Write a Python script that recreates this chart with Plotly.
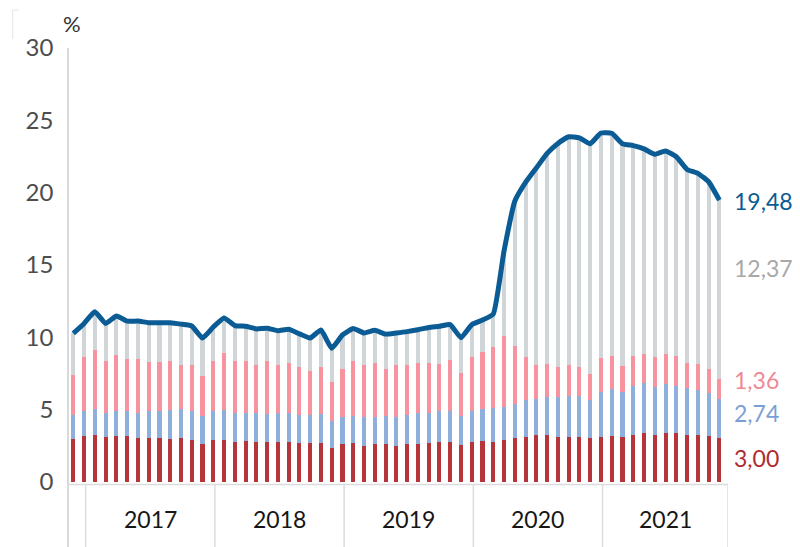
import numpy as np
import plotly.graph_objects as go

months = [f"{y}-{m:02d}" for y, m in [(2016, 12)] + [(yy, mm) for yy in range(2017, 2022) for mm in range(1, 13)]]

red = [2.94, 3.16, 3.21, 3.07, 3.16, 3.16, 3.02, 3.02, 3.02, 2.97, 3.02, 2.88,
       2.61, 2.88, 2.88, 2.76, 2.81, 2.76, 2.75, 2.76, 2.76, 2.66, 2.66, 2.71,
       2.35, 2.61, 2.66, 2.48, 2.61, 2.61, 2.49, 2.61, 2.61, 2.66, 2.74, 2.76,
       2.54, 2.76, 2.81, 2.76, 2.90, 3.00, 3.11, 3.23, 3.23, 3.11, 3.11, 3.11,
       3.00, 3.11, 3.16, 3.11, 3.23, 3.35, 3.23, 3.35, 3.35, 3.23, 3.23, 3.16, 3.00]
blue = [1.67, 1.73, 1.81, 1.66, 1.76, 1.76, 1.71, 1.87, 1.90, 1.99, 1.98, 1.99,
        1.96, 2.01, 2.06, 1.98, 1.93, 1.96, 1.93, 1.96, 1.97, 1.95, 1.97, 1.97,
        1.85, 1.89, 1.88, 1.98, 1.89, 1.93, 2.01, 2.00, 2.12, 2.07, 2.12, 2.12,
        2.03, 2.16, 2.19, 2.31, 2.28, 2.37, 2.54, 2.47, 2.61, 2.73, 2.82, 2.82,
        2.65, 3.11, 3.23, 3.11, 3.39, 3.45, 3.30, 3.38, 3.29, 3.23, 3.11, 2.95, 2.74]
pink = [2.77, 3.71, 4.09, 3.61, 3.84, 3.54, 3.73, 3.37, 3.34, 3.38, 3.07, 3.20,
        2.74, 3.43, 3.93, 3.60, 3.60, 3.36, 3.65, 3.35, 3.48, 3.32, 3.05, 3.26,
        2.67, 3.32, 3.80, 3.61, 3.73, 3.27, 3.57, 3.46, 3.48, 3.48, 3.31, 3.53,
        2.97, 3.72, 3.99, 4.27, 4.88, 4.01, 2.95, 2.37, 2.30, 2.12, 2.14, 2.03,
        1.80, 2.31, 2.32, 1.80, 2.09, 2.03, 2.07, 2.10, 2.07, 1.77, 1.80, 1.66, 1.36]
gray = [2.88, 2.35, 2.64, 2.61, 2.70, 2.65, 2.65, 2.74, 2.74, 2.66, 2.83, 2.70,
        2.63, 2.38, 2.46, 2.46, 2.41, 2.49, 2.29, 2.37, 2.34, 2.30, 2.26, 2.55,
        2.36, 2.33, 2.26, 2.22, 2.24, 2.40, 2.22, 2.31, 2.30, 2.46, 2.58, 2.46,
        2.42, 2.22, 2.19, 2.25, 5.90, 10.02, 12.10, 13.63, 14.57, 15.44, 15.79, 15.82,
        15.93, 15.59, 15.39, 15.36, 14.54, 14.19, 14.05, 14.05, 13.77, 13.37, 13.19, 12.98, 12.37]
total = [10.26, 10.95, 11.75, 10.95, 11.46, 11.11, 11.11, 11.00, 11.00, 11.00, 10.90, 10.77,
         9.94, 10.70, 11.33, 10.80, 10.75, 10.57, 10.62, 10.44, 10.55, 10.23, 9.94, 10.49,
         9.23, 10.15, 10.60, 10.29, 10.47, 10.21, 10.29, 10.38, 10.51, 10.67, 10.75, 10.87,
         9.96, 10.86, 11.18, 11.59, 15.96, 19.40, 20.70, 21.70, 22.71, 23.40, 23.86, 23.78,
         23.38, 24.12, 24.10, 23.38, 23.25, 23.02, 22.65, 22.88, 22.48, 21.60, 21.33, 20.75, 19.48]

years = ["2017", "2018", "2019", "2020", "2021"]
end_labels = ["19,48", "12,37", "1,36", "2,74", "3,00"]
y_ticks = [0, 5, 10, 15, 20, 25, 30]

x = np.arange(len(months))

C_RED = "#b5353b"
C_BLUE = "#8eaedb"
C_PINK = "#f6939e"
C_GRAY = "#d0d5d8"
C_LINE = "#0b5b95"
FONT = "Lato"

fig = go.Figure()
for vals, col, name in [(red, C_RED, "red"), (blue, C_BLUE, "blue"),
                        (pink, C_PINK, "pink"), (gray, C_GRAY, "gray")]:
    fig.add_trace(go.Bar(x=x, y=vals, marker=dict(color=col, line=dict(width=0)),
                         width=0.38, name=name, showlegend=False, hoverinfo="skip"))

fig.add_trace(go.Scatter(x=x, y=total, mode="lines",
                         line=dict(color=C_LINE, width=5, shape="spline", smoothing=0.4),
                         showlegend=False, hoverinfo="skip"))

# year band below the axis
div_x = [1.15, 13.15, 25.15, 37.15, 49.15, 60.8]
shapes = [dict(type="line", xref="x", yref="y", x0=-0.4, x1=60.8, y0=-0.2, y1=-0.2,
               line=dict(color="#dcdcdc", width=1.5))]
for dx in div_x:
    shapes.append(dict(type="line", xref="x", yref="y", x0=dx, x1=dx, y0=-0.2, y1=-4.6,
                       line=dict(color="#dcdcdc", width=1.5)))
# faint frame fragment top-left
shapes.append(dict(type="path", xref="paper", yref="paper",
                   path="M -0.0759 1.076 L -0.0854 1.076 L -0.0854 1.018",
                   line=dict(color="#e4e4e4", width=1)))

annotations = []
for i, yr in enumerate(years):
    cx = (div_x[i] + div_x[i + 1]) / 2
    annotations.append(dict(x=cx, y=-2.58, xref="x", yref="y", text=yr, showarrow=False,
                            xanchor="center", yanchor="middle",
                            font=dict(family=FONT, size=23, color="#161616")))

end_y = [19.41, 14.76, 7.03, 4.73, 1.62]
end_col = [C_LINE, "#a8a8a8", "#f08894", "#7b9fd4", "#b02b31"]
for lab, yy, col in zip(end_labels, end_y, end_col):
    annotations.append(dict(x=1.006, y=yy, xref="paper", yref="y", text=lab, showarrow=False,
                            xanchor="left", yanchor="middle",
                            font=dict(family=FONT, size=23, color=col)))

annotations.append(dict(x=0.0046, y=1.05, xref="paper", yref="paper", text="%", showarrow=False,
                        xanchor="center", yanchor="middle",
                        font=dict(family=FONT, size=22, color="#333333")))

fig.update_layout(
    width=792, height=539, autosize=False,
    margin=dict(l=61, r=72, t=40, b=0, pad=0),
    paper_bgcolor="white", plot_bgcolor="white",
    barmode="stack", bargap=0,
    shapes=shapes,
    annotations=annotations,
    xaxis=dict(range=[-0.4, 60.8], showticklabels=False, showgrid=False,
               zeroline=False, showline=False, fixedrange=True),
    yaxis=dict(range=[-4.516, 30], tickvals=y_ticks, ticktext=[str(v) for v in y_ticks],
               showgrid=False, zeroline=False, showline=True, linecolor="#d9d9d9",
               linewidth=1.5, ticks="", ticklabelstandoff=9,
               tickfont=dict(family=FONT, size=24, color="#4d4d4d")),
)

fig.write_html("out.html")
